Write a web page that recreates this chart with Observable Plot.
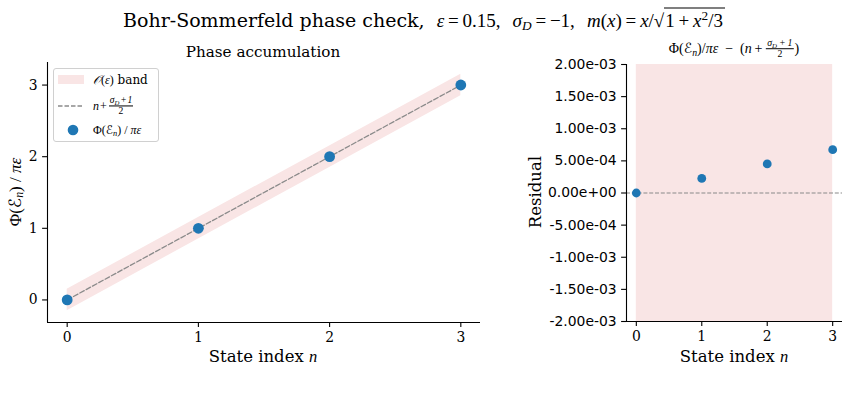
<!DOCTYPE html>
<html>
<head>
<meta charset="utf-8">
<script src="https://cdn.jsdelivr.net/npm/d3@7"></script>
<script src="https://cdn.jsdelivr.net/npm/@observablehq/plot@0.6"></script>
<style>
  html, body { margin: 0; padding: 0; background: #fff; }
  #fig { position: relative; width: 849px; height: 402px; font-family: "DejaVu Serif", serif; color: #000; overflow: hidden; }
  .abs { position: absolute; white-space: nowrap; }
  .m { font-family: "Liberation Serif", serif; }
  .mi { font-family: "Liberation Serif", serif; font-style: italic; }
  .cal { font-family: "DejaVu Sans", sans-serif; font-style: normal; }
  .frac { display: inline-flex; flex-direction: column; align-items: center; vertical-align: middle; font-size: 0.8em; line-height: 1.05; margin: 0 1px; }
  .frac > .num { border-bottom: 1px solid #000; padding: 0 1px; }
  .sqrt { border-top: 1px solid #000; padding: 0 2px 0 1px; }
  sub { font-size: 0.7em; vertical-align: -0.25em; line-height: 0; }
  sup { font-size: 0.7em; vertical-align: 0.5em; line-height: 0; }
  .center { transform: translate(-50%, -50%); }
  .rot { transform: translate(-50%, -50%) rotate(-90deg); }
  #legend { position: absolute; left: 53px; top: 68px; width: 106px; height: 74px; border: 1px solid #d0d0d0; border-radius: 3px; background: rgba(255,255,255,0.8); font-size: 12px; box-sizing: border-box; }
  #legend .row { position: absolute; left: 0; width: 100%; height: 0; }
  #legend .sw { position: absolute; left: 3px; top: -6px; }
  #legend .lab { position: absolute; left: 39px; top: 0; transform: translateY(-50%); white-space: nowrap; }
</style>
</head>
<body>
<div id="fig">
  <div id="left" class="abs" style="left:0;top:0"></div>
  <div id="right" class="abs" style="left:500px;top:0"></div>

  <div class="abs center" style="left:424px;top:20px;font-size:19px">
    Bohr-Sommerfeld phase check,&nbsp;
    <span class="mi">ε</span><span class="m">&#8201;=&#8201;0.15,</span>&nbsp;
    <span class="mi">σ<sub>D</sub></span><span class="m">&#8201;=&#8201;−1,</span>&nbsp;
    <span class="mi">m</span><span class="m">(</span><span class="mi">x</span><span class="m">)&#8201;=&#8201;</span><span class="mi">x</span><span class="m">/√</span><span class="sqrt"><span class="m">1&#8201;+&#8201;</span><span class="mi">x</span><span class="m"><sup>2</sup>/3</span></span>
  </div>

  <div class="abs center" style="left:263px;top:52px;font-size:15.2px">Phase accumulation</div>
  <div class="abs center" style="left:734px;top:49px;font-size:14px">
    <span class="m">Φ(</span><span class="cal">ℰ</span><span class="mi"><sub>n</sub></span><span class="m">)/</span><span class="mi">πε</span><span class="m">&nbsp;&nbsp;−&nbsp;&nbsp;(</span><span class="mi">n</span><span class="m">&#8201;+&#8201;</span><span class="frac" style="font-size:0.7em"><span class="num mi">σ<sub>D</sub><span class="m">&#8201;+&#8201;1</span></span><span class="m">2</span></span><span class="m">)</span>
  </div>

  <div class="abs center" style="left:263px;top:357px;font-size:16.5px">State index <span class="mi">n</span></div>
  <div class="abs center" style="left:734px;top:357px;font-size:16.5px">State index <span class="mi">n</span></div>
  <div class="abs rot" style="left:15px;top:192px;font-size:17px"><span class="m">Φ(</span><span class="cal">ℰ</span><span class="mi"><sub>n</sub></span><span class="m">)&nbsp;/&nbsp;</span><span class="mi">πε</span></div>
  <div class="abs rot" style="left:535px;top:192px;font-size:16.5px">Residual</div>

  <div id="legend">
    <div class="row" style="top:11px">
      <svg class="sw" width="28" height="12"><rect x="1" y="1" width="26" height="9" fill="#f9e5e5"></rect></svg>
      <span class="lab"><span class="mi">𝒪</span><span class="m">(</span><span class="mi">ε</span><span class="m">)</span> band</span>
    </div>
    <div class="row" style="top:37px">
      <svg class="sw" width="28" height="12"><line x1="1" x2="27" y1="6" y2="6" stroke="#8a8a8a" stroke-width="1.3" stroke-dasharray="4.5,2"></line></svg>
      <span class="lab"><span class="mi">n</span><span class="m">&#8202;+&#8202;</span><span class="frac"><span class="num mi">σ<sub>D</sub><span class="m">&#8202;+&#8202;1</span></span><span class="m">2</span></span></span>
    </div>
    <div class="row" style="top:61px">
      <svg class="sw" width="28" height="12"><circle cx="16" cy="6" r="5.3" fill="#1f77b4"></circle></svg>
      <span class="lab"><span class="m">Φ(</span><span class="cal">ℰ</span><span class="mi"><sub>n</sub></span><span class="m">)&nbsp;/&nbsp;</span><span class="mi">πε</span></span>
    </div>
  </div>
</div>

<script>
// Bohr-Sommerfeld check: accumulated phase per state and its residual
const states = [0, 1, 2, 3];
const residual = [0, 2.27e-4, 4.52e-4, 6.75e-4];
const eps = 0.15;
const sigmaD = -1;
const phaseTicks = [0, 1, 2, 3];
const residualTicks = [-2e-3, -1.5e-3, -1e-3, -5e-4, 0, 5e-4, 1e-3, 1.5e-3, 2e-3];

const prediction = n => n + (sigmaD + 1) / 2;
const phase = states.map((n, i) => prediction(n) + residual[i]);
const rows = states.map((n, i) => ({n, phase: phase[i], residual: residual[i]}));

const blue = "#1f77b4";
const band = "#f9e5e5";
const guide = "#8a8a8a";

// scientific tick labels such as 5.00e-04 / 0.00e+00
function sci(v) {
  if (Math.abs(v) < 1e-15) v = 0;
  const [m, e] = v.toExponential(2).split("e");
  const ex = +e;
  return m + "e" + (ex < 0 ? "-" : "+") + String(Math.abs(ex)).padStart(2, "0");
}

const xDomain = [-0.15, 3.15];
const yDomainL = [-0.315, 3.315];
const yDomainR = [-2e-3, 2e-3];

const left = Plot.plot({
  width: 500, height: 380,
  marginLeft: 47, marginRight: 20, marginTop: 62, marginBottom: 58,
  style: {fontFamily: "DejaVu Serif", fontSize: "13.9px", color: "#000", background: "transparent", overflow: "visible"},
  x: {domain: xDomain},
  y: {domain: yDomainL},
  marks: [
    Plot.areaY(rows, {x: "n", y1: d => prediction(d.n) - eps, y2: d => prediction(d.n) + eps, fill: band}),
    Plot.lineY(rows, {x: "n", y: d => prediction(d.n), stroke: guide, strokeWidth: 1.3, strokeDasharray: "5,2.2"}),
    Plot.dot(rows, {x: "n", y: "phase", r: 5.4, fill: blue}),
    Plot.ruleX([xDomain[0]], {stroke: "#000", strokeWidth: 1.1}),
    Plot.ruleY([yDomainL[0]], {stroke: "#000", strokeWidth: 1.1}),
    Plot.axisX({ticks: phaseTicks, tickFormat: d => String(d), tickSize: 4.9, tickPadding: 4.9, label: null, strokeWidth: 1.1}),
    Plot.axisY({ticks: phaseTicks, tickFormat: d => String(d), tickSize: 4.9, tickPadding: 4.9, label: null, strokeWidth: 1.1})
  ]
});
document.getElementById("left").appendChild(left);

const right = Plot.plot({
  width: 349, height: 380,
  marginLeft: 126, marginRight: 7, marginTop: 64, marginBottom: 59,
  style: {fontFamily: "DejaVu Serif", fontSize: "13.9px", color: "#000", background: "transparent", overflow: "visible"},
  x: {domain: xDomain},
  y: {domain: yDomainR},
  marks: [
    Plot.areaY(rows, {x: "n", y1: () => -eps, y2: () => eps, fill: band, clip: true}),
    Plot.ruleY([0], {stroke: guide, strokeWidth: 1.1, strokeDasharray: "4,1.8"}),
    Plot.dot(rows, {x: "n", y: "residual", r: 4.4, fill: blue}),
    Plot.ruleX([xDomain[0]], {stroke: "#000", strokeWidth: 1.1}),
    Plot.ruleY([yDomainR[0]], {stroke: "#000", strokeWidth: 1.1}),
    Plot.axisX({ticks: phaseTicks, tickFormat: d => String(d), tickSize: 4.9, tickPadding: 4.9, label: null, strokeWidth: 1.1}),
    Plot.axisY({ticks: residualTicks, tickFormat: sci, tickSize: 4.9, tickPadding: 4.9, label: null, strokeWidth: 1.1, fontFamily: "DejaVu Sans"})
  ]
});
document.getElementById("right").appendChild(right);
</script>
</body>
</html>
